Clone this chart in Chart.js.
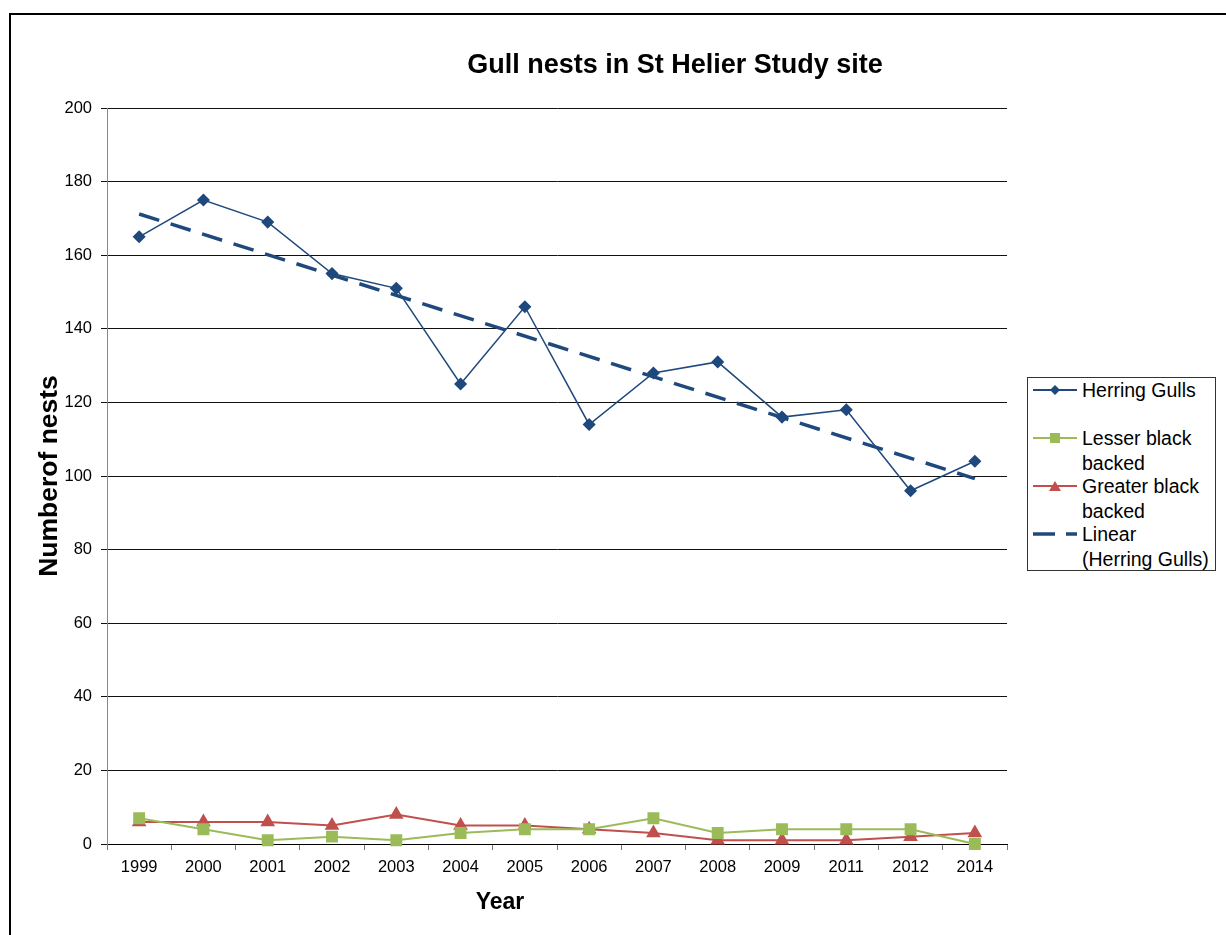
<!DOCTYPE html>
<html lang="en">
<head>
    <meta charset="UTF-8">
    <title>Gull nests in St Helier Study site</title>
    <script src="https://cdn.jsdelivr.net/npm/chart.js"></script>
    <style>
        body {
            margin: 0;
            background-color: #fff;
            font-family: "Liberation Sans", Arial, sans-serif;
        }
        #wrap {
            position: relative;
            width: 1226px;
            height: 935px;
            overflow: hidden;
        }
        #frame {
            position: absolute;
            left: 9px;
            top: 13px;
            width: 1230px;
            height: 940px;
            border-top: 2px solid #000;
            border-left: 2px solid #000;
        }
        #chart {
            position: absolute;
            left: 0;
            top: 0;
        }
        #legend {
            position: absolute;
            left: 1027px;
            top: 377px;
            width: 187px;
            height: 192px;
            border: 1px solid #333;
            background: #fff;
        }
        .item {
            display: flex;
            height: 48px;
            font-size: 19.5px;
            line-height: 25px;
            color: #000;
        }
        .item svg {
            flex: none;
            margin: 6px 5px 0 5px;
        }
    </style>
</head>
<body>
    <div id="wrap">
        <div id="frame"></div>
        <canvas id="chart" width="1226" height="935"></canvas>
        <div id="legend"></div>
    </div>

    <script>
        // values
        const years = ['1999', '2000', '2001', '2002', '2003', '2004', '2005',
                       '2006', '2007', '2008', '2009', '2011', '2012', '2014'];
        const herringGulls = [165, 175, 169, 155, 151, 125, 146, 114, 128, 131, 116, 118, 96, 104];
        const lesserBlackBacked = [7, 4, 1, 2, 1, 3, 4, 4, 7, 3, 4, 4, 4, 0];
        const greaterBlackBacked = [6, 6, 6, 5, 8, 5, 5, 4, 3, 1, 1, 1, 2, 3];
        // linear trend of Herring Gulls, ends
        const trendStart = 171.2;
        const trendEnd = 99.3;
        const yTicks = { min: 0, max: 200, step: 20 };

        const navy = '#1F497D';
        const green = '#9BBB59';
        const red = '#C0504D';

        const trendData = years.map((y, i) => {
            if (i === 0) return trendStart;
            if (i === years.length - 1) return trendEnd;
            return null;
        });

        // title and x axis title drawn on the canvas
        const textPlugin = {
            id: 'texts',
            afterDraw(chart) {
                const ctx = chart.ctx;
                ctx.save();
                ctx.fillStyle = '#000';
                ctx.textAlign = 'center';
                ctx.textBaseline = 'middle';
                ctx.font = 'bold 27px "Liberation Sans", Arial';
                ctx.fillText('Gull nests in St Helier Study site', 675, 66);
                ctx.font = 'bold 23px "Liberation Sans", Arial';
                ctx.fillText('Year', 500, 903);
                ctx.restore();
            }
        };

        const ctx = document.getElementById('chart').getContext('2d');
        const chart = new Chart(ctx, {
            type: 'line',
            data: {
                labels: years,
                datasets: [
                    {
                        label: 'Herring Gulls',
                        data: herringGulls,
                        borderColor: navy,
                        backgroundColor: navy,
                        borderWidth: 1.5,
                        pointStyle: 'rectRot',
                        pointRadius: 5.5,
                        clip: false
                    },
                    {
                        label: 'Lesser black backed',
                        data: lesserBlackBacked,
                        borderColor: green,
                        backgroundColor: green,
                        borderWidth: 2,
                        pointStyle: 'rect',
                        pointRadius: 7,
                        clip: false
                    },
                    {
                        label: 'Greater black backed',
                        data: greaterBlackBacked,
                        borderColor: red,
                        backgroundColor: red,
                        borderWidth: 2,
                        pointStyle: 'triangle',
                        pointRadius: 6.5,
                        clip: false
                    },
                    {
                        label: 'Linear (Herring Gulls)',
                        data: trendData,
                        borderColor: navy,
                        borderWidth: 3.5,
                        borderDash: [21, 12],
                        pointRadius: 0,
                        spanGaps: true,
                        clip: false
                    }
                ]
            },
            options: {
                responsive: false,
                animation: false,
                layout: {
                    padding: { left: 10, top: 108, right: 219, bottom: 0 }
                },
                plugins: {
                    legend: { display: false },
                    title: { display: false },
                    tooltip: { enabled: false }
                },
                scales: {
                    x: {
                        offset: true,
                        afterFit(scale) { scale.height = 91; },
                        grid: {
                            offset: true,
                            drawOnChartArea: false,
                            tickLength: 6,
                            color: '#777'
                        },
                        border: { color: '#000', width: 1 },
                        ticks: {
                            color: '#000',
                            padding: 8,
                            maxRotation: 0,
                            font: { family: '"Liberation Sans", Arial', size: 16.5 }
                        }
                    },
                    y: {
                        min: yTicks.min,
                        max: yTicks.max,
                        afterFit(scale) { scale.width = 97; },
                        grid: {
                            color: '#111',
                            lineWidth: 1,
                            tickLength: 6
                        },
                        border: { color: '#888', width: 1 },
                        ticks: {
                            stepSize: yTicks.step,
                            color: '#000',
                            padding: 9,
                            font: { family: '"Liberation Sans", Arial', size: 16.5 }
                        },
                        title: {
                            display: true,
                            text: 'Numberof nests',
                            color: '#000',
                            padding: { top: 24, bottom: 0 },
                            font: { family: '"Liberation Sans", Arial', size: 26.5, weight: 'bold' }
                        }
                    }
                }
            },
            plugins: [textPlugin]
        });

        // HTML legend with two text lines per entry
        function markerSvg(ds) {
            let mark = '';
            const c = ds.borderColor;
            if (ds.pointStyle === 'rectRot') {
                mark = `<polygon points="22,1 27,6 22,11 17,6" fill="${c}"/>`;
            } else if (ds.pointStyle === 'rect') {
                mark = `<rect x="17" y="1" width="10" height="10" fill="${c}"/>`;
            } else if (ds.pointStyle === 'triangle') {
                mark = `<polygon points="22,1 28,11 16,11" fill="${c}"/>`;
            }
            const dash = ds.borderDash ? 'stroke-dasharray="22 11"' : '';
            const w = ds.borderDash ? 3.5 : 2;
            return `<svg width="44" height="12"><line x1="0" y1="6" x2="44" y2="6" stroke="${c}" stroke-width="${w}" ${dash}/>${mark}</svg>`;
        }

        const legendLines = [
            ['Herring Gulls'],
            ['Lesser black', 'backed'],
            ['Greater black', 'backed'],
            ['Linear', '(Herring Gulls)']
        ];
        const legend = document.getElementById('legend');
        chart.data.datasets.forEach((ds, i) => {
            const item = document.createElement('div');
            item.className = 'item';
            item.innerHTML = markerSvg(ds) + '<div>' + legendLines[i].join('<br>') + '</div>';
            legend.appendChild(item);
        });
    </script>
</body>
</html>
